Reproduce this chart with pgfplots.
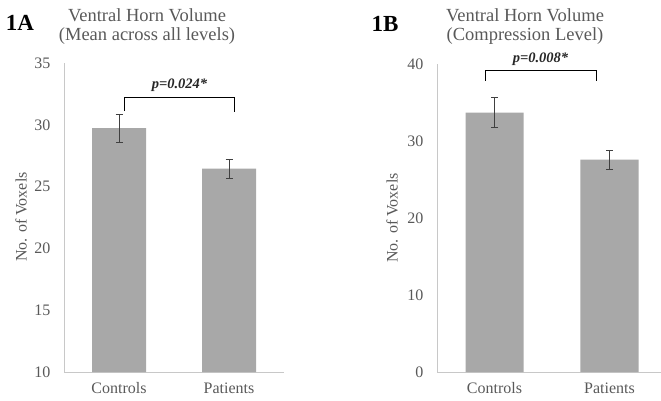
\documentclass[border=0pt]{standalone}
\usepackage{fontspec}
\setmainfont{Liberation Serif}
\usepackage{pgfplots}
\pgfplotsset{compat=1.18}
\definecolor{txtgray}{HTML}{595959}
\definecolor{bargray}{HTML}{A8A8A8}
\definecolor{axgray}{HTML}{C8C8C8}
\definecolor{errgray}{HTML}{404040}
\pgfplotsset{
  vhstyle/.style={
    scale only axis,
    axis x line=bottom, axis y line=left,
    axis line style={-, draw=axgray, line width=0.9bp},
    major tick length=0pt,
    xtick={0,1}, xticklabels={Controls,Patients},
    xmin=-0.5,
    ybar, 
    /pgf/number format/assume math mode=true,
    tick label style={font=\fontsize{16bp}{18bp}\selectfont, text=txtgray},
    yticklabel style={xshift=-10bp},
    xticklabel style={yshift=-7bp},
    clip=false,
    enlarge x limits=false,
  },
  barstyle/.style={fill=bargray, draw=none,
    error bars/.cd, y dir=both, y explicit,
    error bar style={draw=errgray, line width=0.9bp},
    error mark options={rotate=90, mark size=3.5bp, draw=errgray, line width=0.9bp}},
}
\begin{document}
\begin{tikzpicture}[x=1bp,y=1bp]
\useasboundingbox (0,0) rectangle (661,400);
% Panel A
\begin{axis}[vhstyle, at={(64bp,28bp)}, anchor=south west,
  width=220bp, height=309bp, xmax=1.5, bar width=54bp,
  ymin=10, ymax=35, ytick={10,15,20,25,30,35}]
\addplot[barstyle] coordinates {(0,29.74) +- (0,1.13) (1,26.45) +- (0,0.77)};
\draw[black, line width=1bp] (axis cs:0.05,31.1) -- (axis cs:0.05,32.17) -- (axis cs:1.05,32.17) -- (axis cs:1.05,31.0);
\node[font=\bfseries\itshape\fontsize{14.5bp}{17bp}\selectfont, text=black!85] at (axis cs:0.55,33.2) {p=0.024*};
\end{axis}
% Panel B
\begin{axis}[vhstyle, at={(437bp,28bp)}, anchor=south west,
  width=224bp, height=308bp, xmax=1.448, bar width=58bp,
  ymin=0, ymax=40, ytick={0,10,20,30,40}]
\addplot[barstyle] coordinates {(0,33.7) +- (0,1.95) (1,27.57) +- (0,1.2)};
\draw[black, line width=1bp] (axis cs:-0.074,37.8) -- (axis cs:-0.074,39.2) -- (axis cs:0.891,39.2) -- (axis cs:0.891,37.8);
\node[font=\bfseries\itshape\fontsize{14.5bp}{17bp}\selectfont, text=black!85] at (axis cs:0.40,40.6) {p=0.008*};
\end{axis}
% Axis labels
\node[rotate=90, font=\fontsize{16bp}{18bp}\selectfont, text=txtgray] at (21,183) {No. of Voxels};
\node[rotate=90, font=\fontsize{16bp}{18bp}\selectfont, text=txtgray] at (392,182) {No. of Voxels};
% Titles
\node[font=\bfseries\fontsize{23bp}{25bp}\selectfont] at (20,377) {1A};
\node[font=\bfseries\fontsize{23bp}{25bp}\selectfont] at (385,376.5) {1B};
\node[font=\fontsize{18.5bp}{21bp}\selectfont, text=txtgray] at (147,385) {Ventral Horn Volume};
\node[font=\fontsize{18.5bp}{21bp}\selectfont, text=txtgray] at (147,364) {(Mean across all levels)};
\node[font=\fontsize{18.5bp}{21bp}\selectfont, text=txtgray] at (525,385) {Ventral Horn Volume};
\node[font=\fontsize{18.5bp}{21bp}\selectfont, text=txtgray] at (525,364) {(Compression Level)};
\end{tikzpicture}
\end{document}
